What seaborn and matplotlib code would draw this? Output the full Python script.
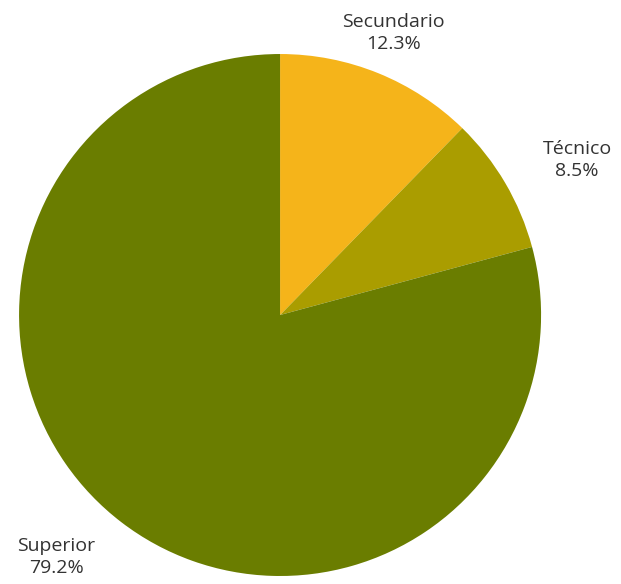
import matplotlib
matplotlib.use("Agg")
import matplotlib.pyplot as plt
import seaborn as sns
import numpy as np

categories = ["Secundario", "Técnico", "Superior"]
values = [12.3, 8.5, 79.2]
colors = ["#F5B41A", "#AA9D00", "#6A7D00"]
label_pos = [(0.433, 1.080), (1.138, 0.594), (-0.858, -0.927)]

sns.set_theme(style="white")
plt.rcParams["font.family"] = ["Open Sans", "DejaVu Sans"]

fig = plt.figure(figsize=(6.21, 5.84), dpi=100)
ax = fig.add_axes([0.451 - 0.4203, 0.4606 - 0.4469, 0.8406, 0.8938])
ax.pie(values, colors=colors, startangle=90, counterclock=False,
       wedgeprops=dict(linewidth=0))
for cat, val, (x, y) in zip(categories, values, label_pos):
    ax.text(x, y, f"{cat}\n{val:.1f}%", ha="center", va="center",
            fontsize=14, color="#333333", linespacing=1.3)
ax.set_xlim(-1, 1)
ax.set_ylim(-1, 1)
ax.set_aspect("auto")
ax.axis("off")
fig.savefig("out.png", dpi=100)
